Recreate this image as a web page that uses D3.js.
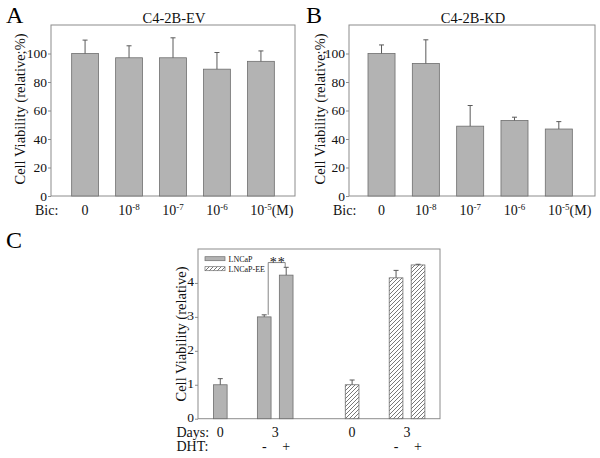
<!DOCTYPE html>
<html><head><meta charset="utf-8">
<script src="https://cdn.jsdelivr.net/npm/d3@7"></script>
<style>body{margin:0;background:#fff;}svg{display:block;}</style></head>
<body><svg id="chart" width="600" height="458"></svg>
<script>
// ---------- DATA ----------
const doseLabels = ["0", "10^-8", "10^-7", "10^-6", "10^-5"];
const evValues = [100, 97, 97, 89, 94.5];
const evErrors = [9.4, 8.4, 14, 11.7, 7.3];
const kdValues = [100, 93, 49, 53, 47];
const kdErrors = [6, 16.6, 14.5, 2.3, 5.2];
const viabilityTicks = [0, 20, 40, 60, 80, 100];

const cSlots = ["LNCaP d0", "gap1", "LNCaP d3 -", "LNCaP d3 +", "gap2", "gap3", "EE d0", "gap4", "EE d3 -", "EE d3 +"];
const cBars = ["LNCaP d0", "LNCaP d3 -", "LNCaP d3 +", "EE d0", "EE d3 -", "EE d3 +"];
const cSeries = ["LNCaP", "LNCaP", "LNCaP", "LNCaP-EE", "LNCaP-EE", "LNCaP-EE"];
const cValues = [1.0, 3.0, 4.23, 1.0, 4.15, 4.53];
const cErrors = [0.18, 0.06, 0.23, 0.14, 0.22, 0.02];
const cTicks = [0, 1, 2, 3, 4];
const dayLabels = [{at: ["LNCaP d0"], text: "0"}, {at: ["LNCaP d3 -", "LNCaP d3 +"], text: "3"},
                   {at: ["EE d0"], text: "0"}, {at: ["EE d3 -", "EE d3 +"], text: "3"}];
const dhtLabels = [{at: "LNCaP d3 -", text: "-"}, {at: "LNCaP d3 +", text: "+"},
                   {at: "EE d3 -", text: "-"}, {at: "EE d3 +", text: "+"}];
const legendItems = ["LNCaP", "LNCaP-EE"];

// ---------- STYLE ----------
const FONT = "Liberation Serif";
const BAR_FILL = "#b3b3b3", BAR_STROKE = "#6e6e6e", FRAME = "#8c8c8c", ERR = "#5a5a5a", TXT = "#111";
const svg = d3.select("#chart");
svg.append("rect").attr("width", 600).attr("height", 458).attr("fill", "#fff");

function txt(g, x, y, s, fs) {
  return g.append("text").attr("x", x).attr("y", y).attr("fill", TXT)
    .style("font-size", fs + "px").style("font-family", FONT).text(s);
}

const defs = svg.append("defs");
const pat = defs.append("pattern").attr("id", "hatch").attr("patternUnits", "userSpaceOnUse")
  .attr("width", 4).attr("height", 4);
pat.append("rect").attr("width", 4).attr("height", 4).attr("fill", "#fff");
pat.append("path").attr("d", "M-1,1 L1,-1 M0,4 L4,0 M3,5 L5,3")
  .attr("stroke", "#555").attr("stroke-width", 0.8);

function frame(g, x0, x1, y0, y1) {
  g.append("rect").attr("x", x0).attr("y", y0).attr("width", x1 - x0).attr("height", y1 - y0)
    .attr("fill", "none").attr("stroke", FRAME).attr("stroke-width", 1);
}

function yAxis(g, y, x0, ticks, fs, dy) {
  const ax = g.append("g").attr("transform", `translate(${x0},0)`)
    .call(d3.axisLeft(y).tickValues(ticks).tickSize(3).tickPadding(1).tickFormat(d3.format("d")));
  ax.select(".domain").remove();
  ax.selectAll(".tick line").attr("stroke", FRAME);
  ax.selectAll(".tick text").attr("fill", TXT).style("font-size", fs + "px").style("font-family", FONT)
    .attr("dy", dy);
}

function errorBars(g, xc, y, vals, errs, cap) {
  vals.forEach((v, i) => {
    const cx = xc(i), yt = y(v + errs[i]);
    g.append("line").attr("x1", cx).attr("x2", cx).attr("y1", y(v)).attr("y2", yt)
      .attr("stroke", ERR).attr("stroke-width", 1);
    g.append("line").attr("x1", cx - cap).attr("x2", cx + cap).attr("y1", yt).attr("y2", yt)
      .attr("stroke", ERR).attr("stroke-width", 1);
  });
}

function dosePanel(opts) {
  const g = svg.append("g");
  const y = d3.scaleLinear().domain([0, 120]).range([196, 25]);
  const x = d3.scaleBand().domain(doseLabels).range([opts.x0, opts.x1])
    .paddingInner(0.39).paddingOuter(0.47).align(opts.align);
  frame(g, opts.x0, opts.x1, 25, 196);
  yAxis(g, y, opts.x0, viabilityTicks, 13.5, "0.3em");
  g.selectAll("rect.bar").data(opts.values).join("rect").attr("class", "bar")
    .attr("x", (d, i) => x(doseLabels[i])).attr("width", x.bandwidth())
    .attr("y", d => y(d)).attr("height", d => y(0) - y(d))
    .attr("fill", BAR_FILL).attr("stroke", BAR_STROKE).attr("stroke-width", 0.8);
  errorBars(g, i => x(doseLabels[i]) + x.bandwidth() / 2, y, opts.values, opts.errors, 2.5);
  doseLabels.forEach((lab, i) => {
    const cx = x(lab) + x.bandwidth() / 2;
    const parts = lab.split("^");
    const t = txt(g, 0, 215, "", 14);
    t.append("tspan").text(parts[0]);
    if (parts[1]) t.append("tspan").style("font-size", "9px").attr("dy", -5).text(parts[1]);
    const w = t.node().getComputedTextLength();
    t.attr("x", cx - w / 2);
    if (i === doseLabels.length - 1) txt(g, cx + w / 2, 215, "(M)", 14);
  });
  txt(g, opts.bicX, 215, "Bic:", 14);
  txt(g, (opts.x0 + opts.x1) / 2 + 1, 22.5, opts.title, 14.5).attr("text-anchor", "middle");
  txt(g, 0, 0, "Cell Viability (relative;%)", 14.5)
    .attr("transform", `translate(${opts.titleX},109) rotate(-90)`).attr("text-anchor", "middle").attr("dy", "0.35em");
  txt(g, opts.letterX, 23, opts.letter, 24).attr("fill", "#000");
}

dosePanel({x0: 51, x1: 295, align: 0.5, values: evValues, errors: evErrors, title: "C4-2B-EV",
           bicX: 35, titleX: 20, letterX: 6, letter: "A"});
dosePanel({x0: 349, x1: 595, align: 0.456, values: kdValues, errors: kdErrors, title: "C4-2B-KD",
           bicX: 333, titleX: 320, letterX: 306, letter: "B"});

// ---------- Panel C ----------
(function () {
  const g = svg.append("g");
  const x0 = 198, x1 = 440, yTop = 249, yBot = 418.7;
  const y = d3.scaleLinear().domain([0, 5]).range([yBot, yTop]);
  const x = d3.scaleBand().domain(cSlots).range([x0, x1]).paddingInner(0.377).paddingOuter(0.695).align(0.505);
  const cx = k => x(k) + x.bandwidth() / 2;
  frame(g, x0, x1, yTop, yBot);
  yAxis(g, y, x0, cTicks, 13.5, "0.18em");
  g.selectAll("rect.bar").data(cValues).join("rect").attr("class", "bar")
    .attr("x", (d, i) => x(cBars[i])).attr("width", x.bandwidth())
    .attr("y", d => y(d)).attr("height", d => y(0) - y(d))
    .attr("fill", (d, i) => cSeries[i] === "LNCaP" ? BAR_FILL : "url(#hatch)")
    .attr("stroke", BAR_STROKE).attr("stroke-width", 0.8);
  errorBars(g, i => cx(cBars[i]), y, cValues, cErrors, 2.5);

  const bx1 = cx(cBars[1]) + 4, bx2 = cx(cBars[2]) - 1;
  const by = y(4.6);
  g.append("path").attr("d", `M${bx1},${y(cValues[1] + cErrors[1])} V${by} H${bx2} V${y(cValues[2] + cErrors[2])}`)
    .attr("fill", "none").attr("stroke", "#666").attr("stroke-width", 0.8);
  txt(g, (bx1 + bx2) / 2 + 1, by + 4.5, "**", 14).attr("text-anchor", "middle").attr("letter-spacing", 1);

  legendItems.forEach((name, i) => {
    const ly = 256.7 + i * 10;
    g.append("rect").attr("x", 205).attr("y", ly).attr("width", 20).attr("height", 4)
      .attr("fill", i === 0 ? BAR_FILL : "url(#hatch)").attr("stroke", BAR_STROKE).attr("stroke-width", 0.7);
    txt(g, 228.5, ly + 4.8, name, 8);
  });

  txt(g, 176.5, 436.5, "Days:", 14);
  txt(g, 176.5, 450.5, "DHT:", 14);
  dayLabels.forEach(d => txt(g, d3.mean(d.at, cx), 436.5, d.text, 14).attr("text-anchor", "middle"));
  dhtLabels.forEach(d => txt(g, cx(d.at), 450.5, d.text, 14).attr("text-anchor", "middle"));
  txt(g, 0, 0, "Cell Viability (relative)", 14.5)
    .attr("transform", `translate(180.5,334) rotate(-90)`).attr("text-anchor", "middle").attr("dy", "0.35em");
  txt(g, 6, 248, "C", 24).attr("fill", "#000");
})();
</script></body></html>
